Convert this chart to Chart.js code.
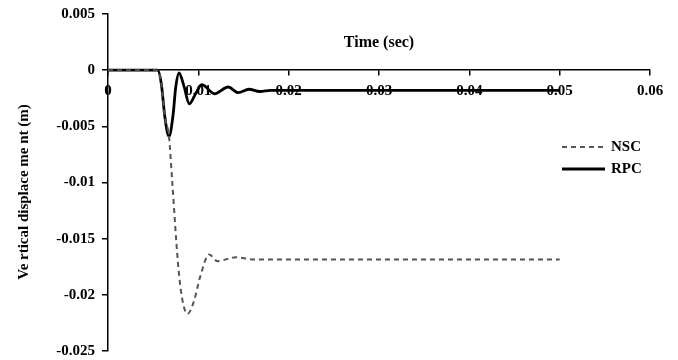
<!DOCTYPE html>
<html>
<head>
<meta charset="utf-8">
<script src="https://cdn.jsdelivr.net/npm/chart.js@4/dist/chart.umd.min.js"></script>
<style>
  html, body { margin: 0; padding: 0; background: #fff; }
  #wrap { width: 678px; height: 360px; }
</style>
</head>
<body>
<div id="wrap"><canvas id="dispChart"></canvas></div>
<script>
// time (sec) and vertical displacement (m)
const timeRPC = [0, 0.0055, 0.0059, 0.0063, 0.00675, 0.0072, 0.0075, 0.00786, 0.0084, 0.0090, 0.0097, 0.01037, 0.0118, 0.0133, 0.0144, 0.0156, 0.0168, 0.018, 0.05];
const rpc     = [0, 0, -0.0012, -0.0042, -0.0059, -0.0040, -0.0015, -0.00025, -0.0014, -0.0030, -0.0021, -0.00128, -0.0021, -0.0015, -0.0020, -0.0017, -0.0019, -0.0018, -0.0018];

const timeNSC = [0, 0.0055, 0.0059, 0.0063, 0.00675, 0.0071, 0.00775, 0.0082, 0.0088, 0.0095, 0.0102, 0.0112, 0.0121, 0.0142, 0.016, 0.05];
const nsc     = [0, 0, -0.0012, -0.0042, -0.0059, -0.0098, -0.0172, -0.0203, -0.0217, -0.0206, -0.0184, -0.0164, -0.0170, -0.01665, -0.01685, -0.01685];

const xTicks = [0, 0.01, 0.02, 0.03, 0.04, 0.05, 0.06];
const yTicks = [0.005, 0, -0.005, -0.01, -0.015, -0.02, -0.025];

const serif = '"Liberation Serif", "DejaVu Serif", serif';

function toPoints(xs, ys) {
  return xs.map((x, i) => ({ x: x, y: ys[i] }));
}

// axis titles and the small legend inside the plot
const extras = {
  id: 'extras',
  afterDraw(chart) {
    const c = chart.ctx;
    const area = chart.chartArea;
    c.save();
    c.fillStyle = '#000';
    c.font = 'bold 16px ' + serif;
    c.textAlign = 'center';
    c.textBaseline = 'middle';
    c.fillText('Time (sec)', (area.left + area.right) / 2, 43);

    c.save();
    c.translate(24, 192);
    c.rotate(-Math.PI / 2);
    c.font = 'bold 15px ' + serif;
    c.fillText('Ve rtical displace me nt (m)', 0, 0);
    c.restore();

    c.font = 'bold 15px ' + serif;
    const rows = [147, 169];
    chart.data.datasets.forEach((ds, i) => {
      const y = rows[i];
      c.beginPath();
      c.strokeStyle = ds.borderColor;
      c.lineWidth = ds.borderWidth;
      c.setLineDash(ds.borderDash || []);
      c.moveTo(562, y);
      c.lineTo(605, y);
      c.stroke();
      c.setLineDash([]);
      c.textAlign = 'left';
      c.fillStyle = '#000';
      c.fillText(ds.label, 611, y);
    });
    c.restore();
  }
};

new Chart(document.getElementById('dispChart'), {
  type: 'line',
  data: {
    datasets: [
      {
        label: 'NSC',
        data: toPoints(timeNSC, nsc),
        borderColor: '#555',
        borderWidth: 2,
        borderDash: [5, 4],
        pointRadius: 0,
        cubicInterpolationMode: 'monotone',
        fill: false
      },
      {
        label: 'RPC',
        data: toPoints(timeRPC, rpc),
        borderColor: '#000',
        borderWidth: 2.8,
        pointRadius: 0,
        cubicInterpolationMode: 'monotone',
        fill: false
      }
    ]
  },
  options: {
    responsive: true,
    maintainAspectRatio: false,
    animation: false,
    layout: { padding: { top: 14, right: 28, bottom: 9, left: 0 } },
    plugins: {
      legend: { display: false },
      tooltip: { enabled: false }
    },
    scales: {
      x: {
        type: 'linear',
        position: { y: 0 },
        min: 0,
        max: 0.06,
        afterBuildTicks: (s) => { s.ticks = xTicks.map(v => ({ value: v })); },
        afterFit: (s) => { s.height = 0; },
        ticks: {
          color: '#000',
          padding: 7,
          maxRotation: 0,
          font: { family: serif, size: 15, weight: 'bold' },
          callback: (v) => String(+v.toFixed(3))
        },
        grid: { drawOnChartArea: false, drawTicks: true, tickLength: 5, color: '#000', lineWidth: 1.5 },
        border: { display: true, color: '#000', width: 1.5 }
      },
      y: {
        type: 'linear',
        min: -0.025,
        max: 0.005,
        afterBuildTicks: (s) => { s.ticks = yTicks.map(v => ({ value: v })); },
        afterFit: (s) => {
          s.width = 108;
          s.paddingTop = 0;
          s.paddingBottom = 0;
        },
        ticks: {
          color: '#000',
          padding: 7,
          font: { family: serif, size: 15, weight: 'bold' },
          callback: (v) => String(+v.toFixed(3))
        },
        grid: { drawOnChartArea: false, drawTicks: true, tickLength: 6, color: '#000', lineWidth: 1.5 },
        border: { display: true, color: '#000', width: 1.5 }
      }
    }
  },
  plugins: [extras]
});
</script>
</body>
</html>
